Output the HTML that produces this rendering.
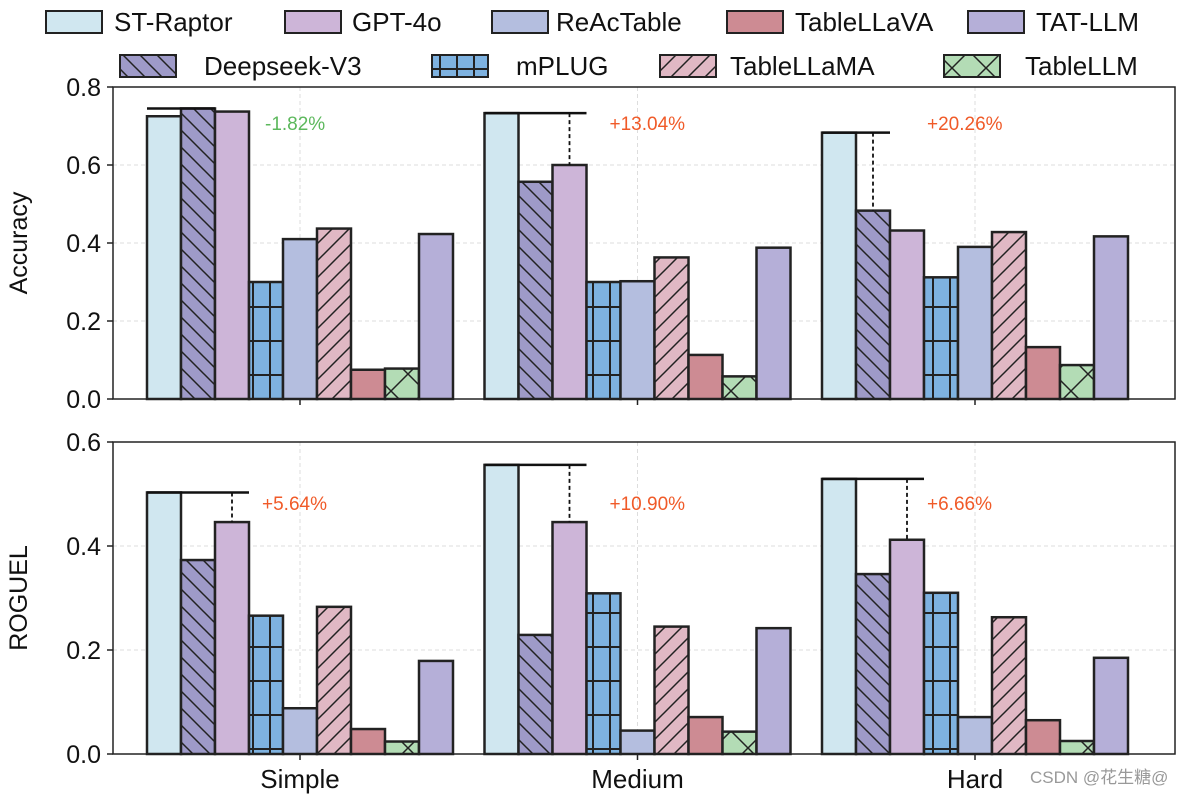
<!DOCTYPE html>
<html><head><meta charset="utf-8"><style>
body{margin:0;background:#fff}
svg{display:block;font-family:"Liberation Sans","DejaVu Sans",sans-serif}
</style></head><body>
<svg id="chart" width="1199" height="796" viewBox="0 0 1199 796" xmlns="http://www.w3.org/2000/svg">
<defs>
<pattern id="h-bs" patternUnits="userSpaceOnUse" width="17" height="17"><rect width="17" height="17" fill="#9e9ac8"/><path d="M-4,-4 L21,21 M-4,13 L4,21 M13,-4 L21,4" stroke="#222" stroke-width="1.5"/></pattern>
<pattern id="h-fs" patternUnits="userSpaceOnUse" width="17" height="17"><rect width="17" height="17" fill="#e0b8c4"/><path d="M-4,21 L21,-4 M-4,4 L4,-4 M13,21 L21,13" stroke="#222" stroke-width="1.5"/></pattern>
<pattern id="h-grid" patternUnits="userSpaceOnUse" width="17" height="34"><rect width="17" height="34" fill="#7eb2e0"/><path d="M15,0 V34 M0,1 H17" stroke="#222" stroke-width="2"/></pattern>
<pattern id="h-x" patternUnits="userSpaceOnUse" width="34" height="34"><rect width="34" height="34" fill="#b3dcb5"/><path d="M0,0 L34,34 M34,0 L0,34" stroke="#222" stroke-width="1.5"/></pattern>
</defs>
<g id="legend"></g>
<g id="plots"></g>
<text x="1030" y="783" font-size="17" fill="#999" font-family="Liberation Sans, Noto Sans CJK SC, sans-serif">CSDN @花生糖@</text>
</svg>
<script>
const categories = ["Simple","Medium","Hard"];
const models = ["ST-Raptor","Deepseek-V3","GPT-4o","mPLUG","ReAcTable","TableLLaMA","TableLLaVA","TableLLM","TAT-LLM"];
const accST = [0.725,0.733,0.683];
const accDeepseek = [0.745,0.557,0.483];
const accGPT = [0.737,0.600,0.432];
const accMPLUG = [0.300,0.300,0.312];
const accReAc = [0.410,0.302,0.390];
const accLLaMA = [0.437,0.363,0.428];
const accLLaVA = [0.075,0.113,0.133];
const accLLM = [0.078,0.058,0.087];
const accTAT = [0.423,0.388,0.417];
const rgST = [0.503,0.556,0.529];
const rgDeepseek = [0.373,0.229,0.346];
const rgGPT = [0.446,0.446,0.412];
const rgMPLUG = [0.266,0.309,0.310];
const rgReAc = [0.088,0.045,0.071];
const rgLLaMA = [0.283,0.245,0.263];
const rgLLaVA = [0.048,0.071,0.065];
const rgLLM = [0.024,0.043,0.025];
const rgTAT = [0.179,0.242,0.185];
const accTicks = ["0.0","0.2","0.4","0.6","0.8"];
const rgTicks = ["0.0","0.2","0.4","0.6"];
const accNotes = ["-1.82%","+13.04%","+20.26%"];
const rgNotes = ["+5.64%","+10.90%","+6.66%"];
const accCompare = [1,2,1];
const rgCompare = [2,2,2];

const fills = ["#d0e7f0","url(#h-bs)","#cdb5d8","url(#h-grid)","#b4bedf","url(#h-fs)","#cd8b93","url(#h-x)","#b5afd8"];
const NS="http://www.w3.org/2000/svg";
const svg=document.getElementById('chart');
function mk(tag,attrs,parent){const e=document.createElementNS(NS,tag);for(const k in attrs)e.setAttribute(k,attrs[k]);(parent||svg).appendChild(e);return e;}

const leg=document.getElementById('legend');
const legItems=[[0,46,22],[2,285,22],[4,492,22],[6,727,22],[8,968,22],[1,120,66],[3,432,66],[5,660,66],[7,944,66]];
const legText=[114,352,556,795,1036,204,516,730,1025];
legItems.forEach((it,i)=>{
  const g=mk('g',{},leg);
  
  
  mk('rect',{x:it[1],y:it[2]-11,width:56,height:22,fill:fills[it[0]],stroke:'#222','stroke-width':2},g);
  const t=mk('text',{x:legText[i],y:it[2]+9,'font-size':26,fill:'#111'},g);t.textContent=models[it[0]];
});

function plot(cfg){
  const {top,bottom,ymax,series,ticks,notes,compare,title,name,showX}=cfg;
  const L=113,R=1175;
  const g=mk('g',{});
  
  
  const y=v=>bottom-(v/ymax)*(bottom-top);
  const bw=34, groupX=i=>147+i*337.5;
  const xc=i=>groupX(i)+4.5*bw;
  ticks.forEach(t=>{const v=parseFloat(t);
    mk('line',{x1:L,x2:R,y1:y(v),y2:y(v),stroke:'#ddd','stroke-dasharray':'4,3','stroke-width':1},g);
    mk('line',{x1:L-6,x2:L,y1:y(v),y2:y(v),stroke:'#222','stroke-width':1.5},g);
    const tx=mk('text',{x:L-12,y:y(v)+9,'font-size':25,'text-anchor':'end',fill:'#111'},g);tx.textContent=t;
    
  });
  categories.forEach((c,i)=>{
    mk('line',{x1:xc(i),x2:xc(i),y1:top,y2:bottom,stroke:'#ddd','stroke-dasharray':'4,3','stroke-width':1},g);
    mk('line',{x1:xc(i),x2:xc(i),y1:bottom,y2:bottom+6,stroke:'#222','stroke-width':1.5},g);
    if(showX){const t=mk('text',{x:xc(i),y:bottom+34,'font-size':26,'text-anchor':'middle',fill:'#111'},g);t.textContent=c;
      }
  });
  series.forEach((arr,m)=>{
    arr.forEach((v,i)=>{
      const r=mk('rect',{x:groupX(i)+m*bw,y:y(v),width:bw,height:bottom-y(v),fill:fills[m],stroke:'#222','stroke-width':2.5},g);
      
      
    });
  });
  categories.forEach((c,i)=>{
    const st=series[0][i], ci=compare[i], cv=series[ci][i];
    const ref=Math.max(st,cv);
    const cx=groupX(i)+ci*bw+bw/2;
    const xEnd=groupX(i)+(ci+1)*bw;
    mk('line',{x1:groupX(i),x2:xEnd,y1:y(ref),y2:y(ref),stroke:'#111','stroke-width':2.5},g);
    if(cv<st) mk('line',{x1:cx,x2:cx,y1:y(ref),y2:y(cv),stroke:'#111','stroke-width':1.8,'stroke-dasharray':'4,3'},g);
    const neg=notes[i].startsWith('-');
    const t=mk('text',{x:groupX(i)+(neg?118:(i==0?115:(i==1?125:105))),y:top+(bottom===399?43:68),'font-size':19,fill:neg?'#5cb85c':'#f05a28'},g);
    t.textContent=notes[i];
    
  });
  mk('rect',{x:L,y:top,width:R-L,height:bottom-top,fill:'none',stroke:'#222','stroke-width':1.5},g);
  const yt=mk('text',{x:0,y:0,'font-size':25,'text-anchor':'middle',fill:'#111',transform:`translate(27,${(top+bottom)/2}) rotate(-90)`},g);
  yt.textContent=title; 
}
plot({top:87,bottom:399,ymax:0.8,series:[accST,accDeepseek,accGPT,accMPLUG,accReAc,accLLaMA,accLLaVA,accLLM,accTAT],ticks:accTicks,notes:accNotes,compare:accCompare,title:'Accuracy',name:'accuracy-plot',showX:false});
plot({top:442,bottom:754,ymax:0.6,series:[rgST,rgDeepseek,rgGPT,rgMPLUG,rgReAc,rgLLaMA,rgLLaVA,rgLLM,rgTAT],ticks:rgTicks,notes:rgNotes,compare:rgCompare,title:'ROGUEL',name:'roguel-plot',showX:true});
</script>
</body></html>
